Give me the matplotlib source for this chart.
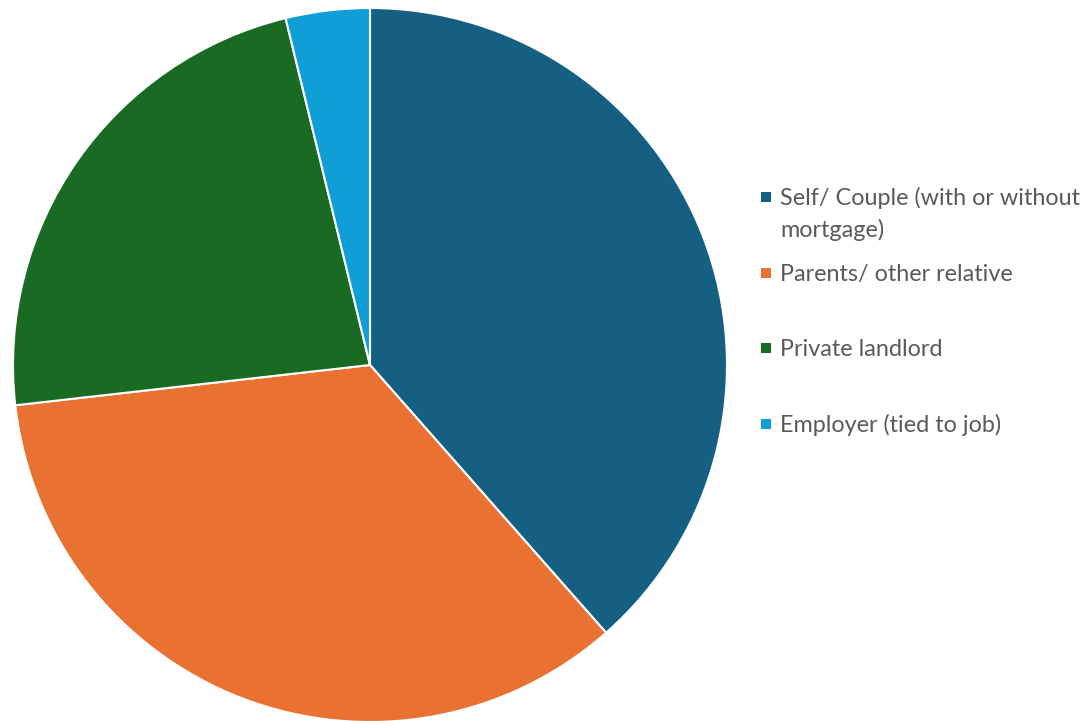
import matplotlib
matplotlib.use("Agg")
import matplotlib.pyplot as plt
from matplotlib.patches import Rectangle

categories = ["Self/ Couple (with or without\nmortgage)", "Parents/ other relative",
              "Private landlord", "Employer (tied to job)"]
values = [38.5, 34.7, 23.0, 3.8]
colors = ["#156082", "#E97132", "#196B24", "#0F9ED5"]

W, H = 1089, 721
fig = plt.figure(figsize=(W / 100, H / 100), dpi=100)
ax = fig.add_axes([0, 0, 1, 1])
ax.axis("off")

ax.pie(values, colors=colors, startangle=90, counterclock=False,
       center=(370, H - 365), radius=357,
       wedgeprops=dict(edgecolor="white", linewidth=1.5))
ax.set_xlim(0, W)
ax.set_ylim(0, H)
ax.set_aspect("equal")

legend_y = [197, 273, 348, 424]
fs = 16.8
for lab, c, y in zip(categories, colors, legend_y):
    ax.add_patch(Rectangle((761, H - y - 5), 10, 10, facecolor=c, edgecolor="none"))
    for i, line in enumerate(lab.split("\n")):
        ax.text(780, H - y - 1 - 32 * i, line, fontsize=fs, color="#595959",
                family="Lato", va="center", ha="left")

fig.savefig("out.png", dpi=100)
